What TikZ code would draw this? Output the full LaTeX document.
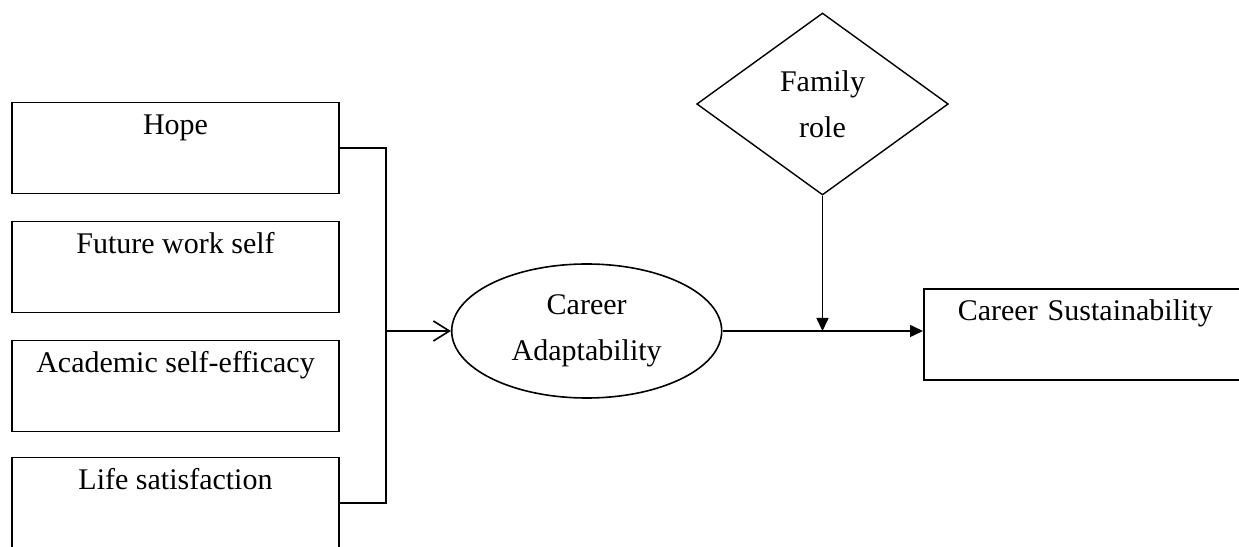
\documentclass[tikz,border=0pt]{standalone}
\usepackage{fontspec}
\setmainfont{Liberation Serif}
\usetikzlibrary{positioning,shapes.geometric,arrows.meta}

\begin{document}
\begin{tikzpicture}[x=1pt, y=1pt, node distance=13.2pt, line width=0.8pt,
    font=\fontsize{15}{23}\selectfont,
    box/.style = {draw, rectangle, minimum width=163.5pt, inner sep=0pt, text height=16pt, text depth=29.5pt},
    ell/.style = {draw, ellipse, minimum width=135pt, minimum height=67pt, inner sep=0pt, align=center},
    dia/.style = {draw, diamond, minimum width=125.8pt, minimum height=91pt, inner sep=0pt, align=center, line width=0.7pt}]
            \useasboundingbox (0,0) rectangle (619.5,273.5);
            \node[box] (hope) at (87.75,199.4) {Hope};
            \node[box] (fws) [below=of hope] {Future work self};
            \node[box] (ase) [below=of fws] {Academic self-efficacy};
            \node[box] (ls) [below=12.2pt of ase] {Life satisfaction};
            \node[ell] (ca) at (293.35,108) {Career\\Adaptability};
            \node[dia] (fr) at (411.25,221.5) {Family\\role};
            \node[box, anchor=north west, text width=132pt, align=left, inner xsep=17pt] (cs) at (461.5,129.5) {Career Sustainability};
            \coordinate (j) at (193,108);
            \draw (hope.east) -| (j) |- (ls.east);
            \path (j) edge[-{Straight Barb[length=8pt,width=10pt]}] node[] {} (ca);
            \path[-{Triangle[length=6.5pt,width=6pt]}]
            (ca) edge node[] {} (ca -| cs.west)
            (fr.south) edge node[] {} (fr.south |- ca);
        \end{tikzpicture}
\end{document}
